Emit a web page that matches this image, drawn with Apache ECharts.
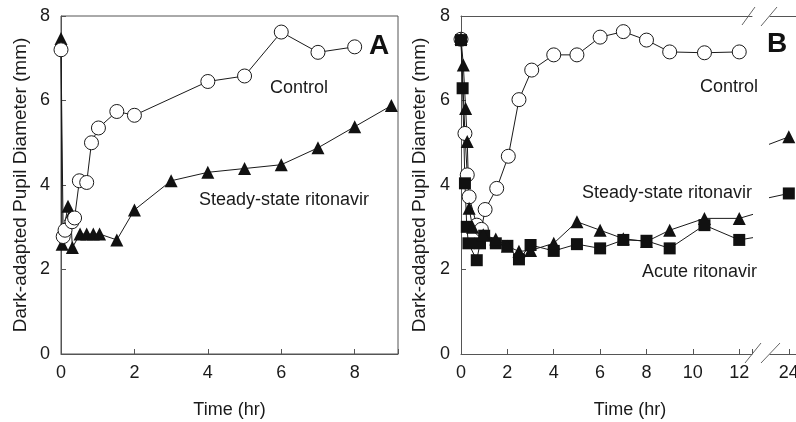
<!DOCTYPE html>
<html><head><meta charset="utf-8">
<script src="https://cdn.jsdelivr.net/npm/echarts@6/dist/echarts.min.js"></script>
<style>html,body{margin:0;padding:0;background:#fff}#c{width:796px;height:422px}</style>
</head><body><div id="c"></div>
<script>
// Panel A
const aControlTime = [0, 0.06, 0.11, 0.3, 0.37, 0.5, 0.7, 0.83, 1.02, 1.52, 2, 4, 5, 6, 7, 8];
const aControlVal  = [7.2, 2.78, 2.93, 3.13, 3.22, 4.1, 4.06, 5.0, 5.35, 5.74, 5.65, 6.45, 6.58, 7.62, 7.14, 7.27];
const aSteadyTime  = [0, 0.03, 0.07, 0.19, 0.26, 0.31, 0.52, 0.7, 0.88, 1.05, 1.52, 2, 3, 4, 5, 6, 7, 8, 9];
const aSteadyVal   = [7.47, 2.6, 2.92, 3.5, 3.3, 2.52, 2.84, 2.84, 2.84, 2.84, 2.7, 3.41, 4.1, 4.3, 4.39, 4.48, 4.88, 5.38, 5.88];
// Panel B
const bControlTime = [0, 0.17, 0.27, 0.35, 0.68, 0.88, 1.04, 1.54, 2.04, 2.5, 3.05, 4, 5, 6, 7, 8, 9, 10.5, 12];
const bControlVal  = [7.45, 5.22, 4.24, 3.72, 3.05, 2.95, 3.42, 3.92, 4.68, 6.02, 6.72, 7.08, 7.08, 7.5, 7.63, 7.43, 7.15, 7.13, 7.15];
const bSteadyTime  = [0, 0.1, 0.2, 0.27, 0.35, 0.5, 0.96, 1.5, 2, 2.5, 3, 4, 5, 6, 7, 8, 9, 10.5, 12, 24];
const bSteadyVal   = [7.47, 6.84, 5.81, 5.03, 3.45, 3.0, 2.82, 2.72, 2.55, 2.43, 2.45, 2.62, 3.13, 2.93, 2.73, 2.66, 2.93, 3.21, 3.21, 5.14];
const bAcuteTime   = [0, 0.07, 0.17, 0.25, 0.32, 0.68, 0.82, 1, 1.5, 2, 2.5, 3, 4, 5, 6, 7, 8, 9, 10.5, 12, 24];
const bAcuteVal    = [7.43, 6.29, 4.04, 3.01, 2.62, 2.22, 2.62, 2.8, 2.62, 2.56, 2.24, 2.58, 2.44, 2.6, 2.5, 2.7, 2.68, 2.5, 3.05, 2.7, 3.8];
const yTicks = [0, 2, 4, 6, 8];

const zip = (t, v) => t.map((x, i) => [x, v[i]]);
const FONT = 'Liberation Sans, Arial, sans-serif';
const INK = '#1a1a1a';
const AX = '#555';

function xAx(grid, min, max, extra) {
  return Object.assign({
    type: 'value', gridIndex: grid, min: min, max: max,
    axisLine: {lineStyle: {color: AX, width: 1}},
    axisTick: {inside: true, length: 5, lineStyle: {color: AX}},
    axisLabel: {fontFamily: FONT, fontSize: 18, color: INK, margin: 10},
    splitLine: {show: false}
  }, extra || {});
}
function yAx(grid, extra) {
  return Object.assign({
    type: 'value', gridIndex: grid, min: yTicks[0], max: yTicks[yTicks.length - 1], interval: 2,
    axisLine: {show: true, lineStyle: {color: AX, width: 1}},
    axisTick: {show: true, inside: true, length: 5, lineStyle: {color: AX}},
    axisLabel: {fontFamily: FONT, fontSize: 18, color: INK, margin: 11},
    splitLine: {show: false},
    name: 'Dark-adapted Pupil Diameter (mm)', nameLocation: 'middle', nameRotate: 90,
    nameTextStyle: {fontFamily: FONT, fontSize: 19, color: INK}
  }, extra || {});
}
const lineS = {color: INK, width: 1};
function ser(name, x, y, data, sym, size, open) {
  return {
    name: name, type: 'line', xAxisIndex: x, yAxisIndex: y, data: data,
    symbol: sym, symbolSize: size, clip: true, animation: false,
    lineStyle: lineS,
    itemStyle: open ? {color: '#fff', borderColor: INK, borderWidth: 1} : {color: '#111', borderWidth: 0},
    emphasis: {disabled: true}
  };
}

const txt = (x, y, s, align, extra) => ({
  type: 'text', x: x, y: y,
  style: Object.assign({text: s, fontFamily: FONT, fontSize: 18, fill: INK, align: align || 'center', verticalAlign: 'middle'}, extra || {})
});
const seg = (x1, y1, x2, y2) => ({type: 'line', shape: {x1: x1, y1: y1, x2: x2, y2: y2}, style: {stroke: '#666', lineWidth: 1}});

const option = {
  backgroundColor: '#fff',
  animation: false,
  grid: [
    {left: 61, top: 16, width: 337, height: 338, show: true, borderColor: AX, borderWidth: 1, backgroundColor: 'transparent', outerBoundsMode: 'none', containLabel: false},
    {left: 461, top: 16, width: 291, height: 338, outerBoundsMode: 'none', containLabel: false},
    {left: 770, top: 16, width: 26, height: 338, outerBoundsMode: 'none', containLabel: false}
  ],
  xAxis: [
    xAx(0, 0, 9.18, {interval: 2, axisLabel: {fontFamily: FONT, fontSize: 18, color: INK, margin: 10,
        formatter: v => (Math.abs(v % 2) < 1e-6 ? String(v) : '')},
      name: 'Time (hr)', nameLocation: 'middle', nameGap: 47,
      nameTextStyle: {fontFamily: FONT, fontSize: 18, color: INK}}),
    xAx(1, 0, 12.55, {interval: 2, axisLabel: {fontFamily: FONT, fontSize: 18, color: INK, margin: 10,
        formatter: v => (Math.abs(v % 2) < 1e-6 ? String(v) : '')}}),
    xAx(2, 22.95, 24.4, {axisLabel: {fontFamily: FONT, fontSize: 18, color: INK, margin: 10, customValues: [24]},
      axisTick: {inside: true, length: 5, lineStyle: {color: AX}, customValues: [24]}}),
    {type: 'value', gridIndex: 1, position: 'top', min: 0, max: 12.55,
      axisLine: {lineStyle: {color: AX}}, axisTick: {show: false}, axisLabel: {show: false}, splitLine: {show: false}},
    {type: 'value', gridIndex: 2, position: 'top', min: 22.95, max: 24.4,
      axisLine: {lineStyle: {color: AX}}, axisTick: {show: false}, axisLabel: {show: false}, splitLine: {show: false}}
  ],
  yAxis: [
    yAx(0, {nameGap: 31}),
    yAx(1, {nameGap: 32}),
    {type: 'value', gridIndex: 2, min: 0, max: 8, show: false}
  ],
  series: [
    ser('A Steady-state ritonavir', 0, 0, zip(aSteadyTime, aSteadyVal), 'triangle', 13, false),
    ser('A Control', 0, 0, zip(aControlTime, aControlVal), 'circle', 14, true),
    ser('B Control', 1, 1, zip(bControlTime, bControlVal), 'circle', 14, true),
    ser('B Acute ritonavir', 1, 1, zip(bAcuteTime, bAcuteVal), 'rect', 12, false),
    ser('B Steady-state ritonavir', 1, 1, zip(bSteadyTime, bSteadyVal), 'triangle', 13, false),
    ser('B24 Acute', 2, 2, zip(bAcuteTime, bAcuteVal), 'rect', 12, false),
    ser('B24 Steady', 2, 2, zip(bSteadyTime, bSteadyVal), 'triangle', 13, false)
  ],
  graphic: [
    txt(299, 88, 'Control'),
    txt(284, 200, 'Steady-state ritonavir'),
    txt(379, 46, 'A', 'center', {fontSize: 28, fontWeight: 'bold', fill: '#111'}),
    txt(758, 87, 'Control', 'right'),
    txt(752, 193, 'Steady-state ritonavir', 'right'),
    txt(757, 272, 'Acute ritonavir', 'right'),
    txt(777, 44, 'B', 'center', {fontSize: 28, fontWeight: 'bold', fill: '#111'}),
    txt(630, 410, 'Time (hr)'),
    seg(745, 363, 761, 343), seg(761, 363, 780, 343),
    seg(742, 25, 755, 7), seg(761, 26, 777, 7)
  ]
};
const chart = echarts.init(document.getElementById('c'), null, {renderer: 'canvas'});
chart.setOption(option);
</script></body></html>
